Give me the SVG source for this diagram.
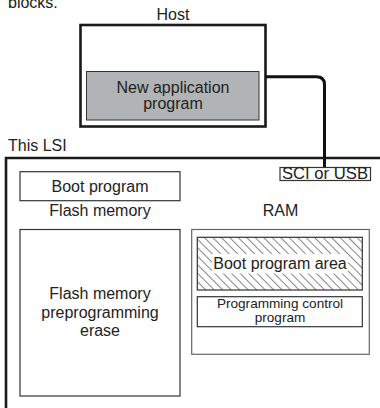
<svg xmlns="http://www.w3.org/2000/svg" width="380" height="408" viewBox="0 0 380 408">
<style>
text{font-family:"Liberation Sans",Arial,sans-serif;font-size:16px;fill:#222}
.c{text-anchor:middle}
.s{font-size:13.6px}
.thin{fill:#fff;stroke:#333;stroke-width:1.2}
.thick{fill:#fff;stroke:#1a1a1a;stroke-width:2.6}
</style>
<defs>
<pattern id="hatch" patternUnits="userSpaceOnUse" width="6" height="6" patternTransform="rotate(-45)">
<rect width="6" height="6" fill="#fff"/>
<line x1="0" y1="0" x2="0" y2="6" stroke="#222" stroke-width="1.1"/>
</pattern>
</defs>
<text x="8" y="8">blocks.</text>
<g id="host">
<text class="c" x="173" y="19.5">Host</text>
<rect class="thick" x="80.5" y="25" width="185" height="101.5"/>
<g id="newapp">
<rect x="86.5" y="71.5" width="172.5" height="48.5" fill="#b1b3b5" stroke="#333" stroke-width="1"/>
<text class="c" x="173" y="93">New application</text>
<text class="c" x="173" y="108.5">program</text>
</g>
</g>
<g id="lsi">
<text x="8" y="151">This LSI</text>
<path d="M6,410 V158 H382" fill="none" stroke="#1a1a1a" stroke-width="2.6"/>
</g>
<g id="connectors">
<path d="M265.5,76.8 H316.5 Q324.5,76.8 324.5,84.8 V167.5" fill="none" stroke="#111" stroke-width="3"/>
</g>
<g id="sci">
<rect class="thin" x="280" y="167.5" width="90.5" height="13"/>
<text x="282" y="179.3" textLength="86" lengthAdjust="spacingAndGlyphs">SCI or USB</text>
</g>
<g id="boot">
<rect class="thin" x="20" y="171.7" width="160" height="29"/>
<text class="c" x="100" y="192">Boot program</text>
</g>
<g id="flash">
<text class="c" x="100" y="216">Flash memory</text>
<rect class="thin" x="20" y="229.5" width="160" height="166.5"/>
<text class="c" x="100" y="298.5">Flash memory</text>
<text class="c" x="100" y="317.5">preprogramming</text>
<text class="c" x="100" y="336">erase</text>
</g>
<g id="ram">
<text class="c" x="280.5" y="216">RAM</text>
<rect x="191.7" y="229.5" width="177.6" height="124.8" fill="#fff" stroke="#666" stroke-width="1.2"/>
<g id="bootarea">
<rect x="197.3" y="237.3" width="165" height="52.7" fill="url(#hatch)" stroke="#333" stroke-width="1.2"/>
<rect x="212" y="254" width="136" height="19.5" fill="#fff"/>
<text class="c" x="280" y="268.5">Boot program area</text>
</g>
<g id="progctrl">
<rect class="thin" x="197.3" y="296.7" width="165" height="30"/>
<text class="c s" x="280" y="308.3">Programming control</text>
<text class="c s" x="280" y="322">program</text>
</g>
</g>
</svg>
